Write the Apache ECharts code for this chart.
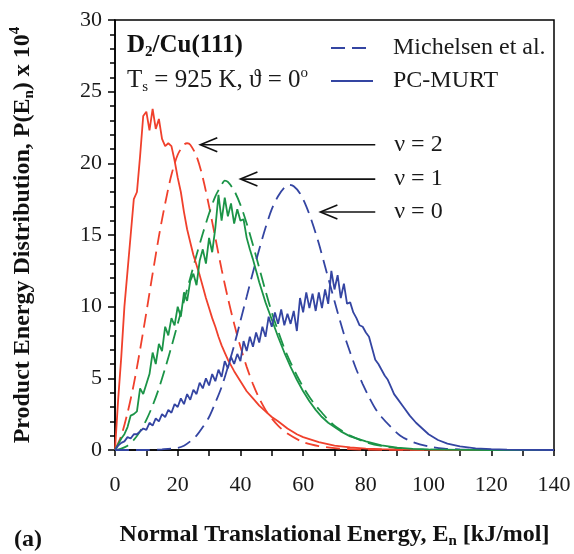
<!DOCTYPE html>
<html>
<head>
<meta charset="utf-8">
<script src="https://cdn.jsdelivr.net/npm/echarts@6/dist/echarts.min.js"></script>
<style>
  html, body { margin: 0; padding: 0; background: #fff; }
  #chart { width: 574px; height: 554px; }
</style>
</head>
<body>
<div id="chart"></div>
<script>
// Normal translational energy distributions for D2 desorbing from Cu(111)
// [E_n in kJ/mol, P(E_n) x 10^4]

// v = 2, PC-MURT (solid red)
const v2Murt = [
  [0,0],[1,3.5],[2,6.5],[3,10],[4,12.5],[5,15],[6,17.5],[7,18],[8,20.5],[9,23.3],
  [10,23.6],[11,22.3],[12,23.8],[13,22.4],[14,23.1],[15,21.7],[16,21.2],[17,21.4],[18,21.2],[19,20.2],
  [20,19],[21,18],[22,16.6],[23,15.4],[24,14.5],[25,13.6],[26,12.9],[27,12.2],[28,11.4],[29,10.6],
  [30,9.9],[31,9.2],[32,8.6],[33,7.9],[34,7.3],[35,6.8],[36,6.3],[37,5.9],[38,5.5],[40,4.8],
  [42,4.1],[44,3.6],[46,3.1],[48,2.7],[50,2.3],[52,2.0],[55,1.5],[58,1.1],[60,0.9],[65,0.55],
  [70,0.3],[75,0.18],[80,0.1],[85,0.06],[90,0.03],[100,0.01],[110,0],[140,0]
];
// v = 2, Michelsen et al. (dashed red)
const v2Mich = [
  [0,0],[2,1.0],[4,2.6],[6,4.6],[8,7.0],[10,9.6],[12,12.3],[14,14.9],[16,17.2],[18,19.2],
  [20,20.6],[22,21.3],[23,21.4],[24,21.3],[26,20.5],[28,19.0],[30,17.0],[32,14.8],[34,12.6],[36,10.6],
  [38,8.8],[40,7.2],[42,5.8],[44,4.6],[46,3.6],[48,2.8],[50,2.2],[52,1.7],[55,1.15],[60,0.55],
  [65,0.27],[70,0.13],[75,0.06],[80,0.03],[90,0.01],[100,0],[140,0]
];
// v = 1, PC-MURT (solid green)
const v1Murt = [
  [0,0],[1,0.4],[2,0.8],[3,1.1],[4,1.6],[5,2.4],[6,2.5],[7,2.7],[8,4.3],[9,3.9],
  [10,4.6],[11,5.3],[12,6.8],[13,6.0],[14,7.4],[15,6.9],[16,8.6],[17,8.0],[18,9.2],[19,8.7],
  [20,10.0],[21,9.3],[22,11.0],[23,10.4],[24,11.8],[25,12.3],[26,11.5],[27,13.2],[28,14.0],[29,13.0],
  [30,14.8],[31,13.8],[32,15.5],[33,17.8],[34,16.0],[35,17.6],[36,16.3],[37,17.2],[38,15.8],[39,16.8],
  [40,16.0],[41,16.1],[42,14.8],[43,14.0],[44,13.3],[45,12.5],[46,11.7],[47,11.0],[48,10.3],[49,9.7],
  [50,9.1],[52,7.9],[54,6.8],[56,5.8],[58,4.9],[60,4.1],[62,3.4],[64,2.8],[66,2.3],[68,1.9],
  [70,1.6],[72,1.3],[75,0.95],[80,0.6],[85,0.33],[90,0.17],[95,0.08],[100,0.04],[110,0.01],[120,0],[140,0]
];
// v = 1, Michelsen et al. (dashed green)
const v1Mich = [
  [0,0],[2,0.1],[4,0.3],[6,0.7],[8,1.3],[10,2.1],[12,3.1],[14,4.3],[16,5.7],[18,7.2],
  [20,8.8],[22,10.4],[24,12.0],[26,13.6],[28,15.1],[30,16.5],[32,17.7],[34,18.5],[35,18.8],[36,18.7],
  [38,18.1],[40,17.1],[42,15.8],[44,14.3],[46,12.7],[48,11.1],[50,9.6],[52,8.3],[54,7.1],[56,6.1],
  [58,5.2],[60,4.4],[62,3.7],[64,3.1],[66,2.6],[68,2.1],[70,1.7],[72,1.4],[75,1.0],[80,0.55],
  [85,0.28],[90,0.12],[95,0.05],[100,0.02],[110,0],[140,0]
];
// v = 0, PC-MURT (solid blue)
const v0Murt = [
  [0,0],[1,0.3],[2,0.5],[3,0.6],[4,0.9],[5,0.8],[6,1.1],[7,1.1],[8,1.3],[9,1.5],
  [10,1.4],[11,1.9],[12,1.7],[13,2.2],[14,2.0],[15,2.5],[16,2.3],[17,2.8],[18,2.6],[19,3.2],
  [20,3.0],[21,3.6],[22,3.2],[23,3.9],[24,3.5],[25,4.2],[26,3.9],[27,4.7],[28,4.3],[29,5.0],
  [30,4.5],[31,5.3],[32,4.8],[33,5.6],[34,5.1],[35,6.2],[36,5.7],[37,6.5],[38,6.0],[39,6.7],
  [40,6.2],[41,7.6],[42,6.9],[43,7.9],[44,7.2],[45,8.2],[46,7.5],[47,8.6],[48,7.9],[49,9.3],
  [50,8.6],[51,9.6],[52,8.8],[53,9.8],[54,8.7],[55,9.5],[56,8.8],[57,9.7],[58,8.3],[59,10.6],
  [60,9.6],[61,11.0],[62,9.9],[63,10.9],[64,9.7],[65,11.0],[66,9.9],[67,11.2],[68,10.2],[69,12.5],
  [70,11.2],[71,12.2],[72,10.6],[73,11.6],[74,10.2],[75,10.3],[76,9.6],[77,9.2],[78,8.7],[79,8.6],
  [80,8.2],[81,7.9],[82,7.1],[83,6.3],[84,6.0],[85,5.6],[86,5.2],[87,4.9],[88,4.4],[89,3.9],
  [90,3.6],[92,3.0],[94,2.4],[96,1.9],[98,1.5],[100,1.1],[103,0.7],[106,0.45],[110,0.25],[115,0.12],
  [120,0.06],[125,0.03],[130,0.01],[140,0]
];
// v = 0, Michelsen et al. (dashed blue)
const v0Mich = [
  [0,0],[10,0],[15,0.05],[20,0.15],[22,0.3],[24,0.6],[26,1.0],[28,1.6],[30,2.3],[32,3.3],
  [34,4.4],[36,5.8],[38,7.3],[40,9.0],[42,10.7],[44,12.4],[46,14.0],[48,15.5],[50,16.8],[52,17.7],
  [54,18.3],[55.5,18.5],[57,18.4],[59,17.9],[61,17.0],[63,15.8],[65,14.4],[67,12.8],[69,11.2],[71,9.6],
  [73,8.1],[75,6.8],[77,5.6],[79,4.6],[81,3.7],[83,2.9],[85,2.3],[88,1.6],[91,1.0],[95,0.55],
  [100,0.25],[105,0.1],[110,0.04],[120,0.01],[140,0]
];

// Annotation arrows: [tail E, tip E, height, label]
const arrows = [
  [83, 27.2, 21.3, 'ν = 2'],
  [83, 40.0, 18.9, 'ν = 1'],
  [83, 65.5, 16.6, 'ν = 0']
];

const xTicks = { min: 0, max: 140, interval: 20 };
const yTicks = { min: 0, max: 30, interval: 5 };

const SERIF = 'Liberation Serif';
const RED = '#f0402c';
const GREEN = '#1b9447';
const BLUE = '#3445a2';
const DASH = [14, 7];
const LW = 1.8;

function solid(name, data, color) {
  return {
    name, type: 'line', data, showSymbol: false, symbol: 'none', silent: true,
    lineStyle: { color, width: LW }, itemStyle: { color }, z: 3
  };
}
function dashed(name, data, color) {
  return {
    name, type: 'line', data, showSymbol: false, symbol: 'none', silent: true, smooth: 0.3,
    lineStyle: { color, width: LW, type: DASH }, itemStyle: { color }, z: 2
  };
}

const chart = echarts.init(document.getElementById('chart'), null, { renderer: 'canvas' });

chart.setOption({
  animation: false,
  backgroundColor: '#fff',
  grid: { left: 114, right: 20, top: 20, bottom: 96, show: true, borderColor: '#000', borderWidth: 1.5 },
  legend: {
    orient: 'vertical', left: 325, top: 31, itemWidth: 42, itemHeight: 14, itemGap: 9,
    itemStyle: { opacity: 0, borderWidth: 0 },
    textStyle: { fontFamily: SERIF, fontSize: 24, color: '#1a1a1a', padding: [0, 0, 0, 15] },
    data: ['Michelsen et al.', 'PC-MURT'],
    selectedMode: false
  },
  xAxis: {
    type: 'value', min: xTicks.min, max: xTicks.max, interval: xTicks.interval,
    axisLine: { lineStyle: { color: '#000', width: 1.5 } },
    axisTick: { length: 6, lineStyle: { color: '#000', width: 1.5 } },
    minorTick: { show: true, splitNumber: 2, length: 6, lineStyle: { color: '#000', width: 1.5 } },
    splitLine: { show: false },
    axisLabel: { fontFamily: SERIF, fontSize: 22, color: '#1a1a1a', margin: 24 },
    name: '{b|Normal Translational Energy, E}{s|n}{b| [kJ/mol]}',
    nameLocation: 'middle', nameGap: 70,
    nameTextStyle: {
      rich: {
        b: { fontFamily: SERIF, fontSize: 24, fontWeight: 'bold', color: '#111' },
        s: { fontFamily: SERIF, fontSize: 15, fontWeight: 'bold', color: '#111', padding: [14, 0, 0, 0] }
      }
    }
  },
  yAxis: {
    type: 'value', min: yTicks.min, max: yTicks.max, interval: yTicks.interval,
    axisLine: { show: true, lineStyle: { color: '#000', width: 1.5 } },
    axisTick: { show: true, length: 7, lineStyle: { color: '#000', width: 1.5 } },
    minorTick: { show: true, splitNumber: 5, length: 5, lineStyle: { color: '#000', width: 1.5 } },
    splitLine: { show: false },
    axisLabel: { fontFamily: SERIF, fontSize: 22, color: '#1a1a1a', margin: 13 },
    name: '{b|Product Energy Distribution, P(E}{s|n}{b|) x 10}{p|4}',
    nameLocation: 'middle', nameGap: 78, nameRotate: 90,
    nameTextStyle: {
      rich: {
        b: { fontFamily: SERIF, fontSize: 24, fontWeight: 'bold', color: '#111' },
        s: { fontFamily: SERIF, fontSize: 15, fontWeight: 'bold', color: '#111', padding: [14, 0, 0, 0] },
        p: { fontFamily: SERIF, fontSize: 15, fontWeight: 'bold', color: '#111', padding: [0, 0, 14, 0] }
      }
    }
  },
  graphic: [
    {
      type: 'text', left: 127, top: 33,
      style: {
        text: '{a|D}{s|2}{a|/Cu(111)}',
        rich: {
          a: { fontFamily: SERIF, fontSize: 25, fontWeight: 'bold', fill: '#111' },
          s: { fontFamily: SERIF, fontSize: 15, fontWeight: 'bold', fill: '#111', padding: [14, 0, 0, 0] }
        }
      }
    },
    {
      type: 'text', left: 127, top: 66,
      style: {
        text: '{a|T}{s|s}{a| = 925 K, ϑ = 0}{p|o}',
        rich: {
          a: { fontFamily: SERIF, fontSize: 25, fill: '#1a1a1a' },
          s: { fontFamily: SERIF, fontSize: 15, fill: '#1a1a1a', padding: [14, 0, 0, 0] },
          p: { fontFamily: SERIF, fontSize: 15, fill: '#1a1a1a', padding: [0, 0, 14, 0] }
        }
      }
    },
    {
      type: 'text', left: 14, top: 528,
      style: { text: '(a)', font: 'bold 24px "Liberation Serif"', fill: '#111' }
    }
  ],
  series: [
    // legend entries (style keys only)
    { name: 'Michelsen et al.', type: 'line', data: [], symbol: 'none', lineStyle: { color: BLUE, width: LW, type: DASH }, itemStyle: { color: BLUE } },
    { name: 'PC-MURT', type: 'line', data: [], symbol: 'none', lineStyle: { color: BLUE, width: LW }, itemStyle: { color: BLUE } },

    dashed('v=2 Michelsen', v2Mich, RED),
    dashed('v=1 Michelsen', v1Mich, GREEN),
    dashed('v=0 Michelsen', v0Mich, BLUE),
    solid('v=2 PC-MURT', v2Murt, RED),
    solid('v=1 PC-MURT', v1Murt, GREEN),
    solid('v=0 PC-MURT', v0Murt, BLUE),

    {
      name: 'arrows', type: 'custom', silent: true, z: 5,
      data: arrows,
      renderItem: function (params, api) {
        const tail = api.coord([api.value(0), api.value(2)]);
        const tip = api.coord([api.value(1), api.value(2)]);
        const label = arrows[params.dataIndex][3];
        const stroke = { stroke: '#111', lineWidth: 1.6, fill: null };
        return {
          type: 'group',
          children: [
            { type: 'line', shape: { x1: tail[0], y1: tail[1], x2: tip[0] + 1, y2: tip[1] }, style: stroke },
            { type: 'polyline', shape: { points: [[tip[0] + 17, tip[1] - 7], [tip[0], tip[1]], [tip[0] + 17, tip[1] + 7]] }, style: stroke },
            {
              type: 'text', x: tail[0] + 19, y: tail[1],
              style: { text: label, font: '24px "Liberation Serif"', fill: '#1a1a1a', verticalAlign: 'middle', align: 'left' }
            }
          ]
        };
      }
    }
  ]
});
</script>
</body>
</html>
